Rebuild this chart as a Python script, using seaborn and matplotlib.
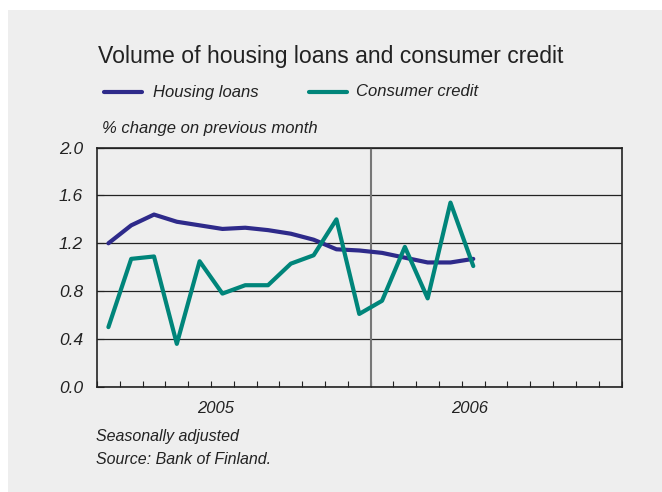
import matplotlib
matplotlib.use("Agg")
import matplotlib.pyplot as plt
from matplotlib.lines import Line2D
from matplotlib.patches import Rectangle
import numpy as np
import pandas as pd
import seaborn as sns

# Monthly data, January 2005 onwards (% change on previous month)
months = pd.period_range("2005-01", periods=17, freq="M").strftime("%Y-%m").tolist()
housing_loans = [1.20, 1.35, 1.44, 1.38, 1.35, 1.32, 1.33, 1.31, 1.28, 1.23, 1.15, 1.14,
                 1.12, 1.08, 1.04, 1.04, 1.07]
consumer_credit = [0.50, 1.07, 1.09, 0.36, 1.05, 0.78, 0.85, 0.85, 1.03, 1.10, 1.40, 0.61,
                   0.72, 1.17, 0.74, 1.54, 1.01]
series_names = ["Housing loans", "Consumer credit"]
series_colors = ["#2e2a8a", "#00857a"]
y_ticks = [0.0, 0.4, 0.8, 1.2, 1.6, 2.0]
year_labels = ["2005", "2006"]
year_label_pos = [4.7, 15.85]
n_months_axis = 23
notes = ["Seasonally adjusted", "Source: Bank of Finland."]

df = pd.DataFrame({
    "month_idx": list(range(len(months))) * 2,
    "value": housing_loans + consumer_credit,
    "series": [series_names[0]] * len(months) + [series_names[1]] * len(months),
})

sns.set_theme(style="white")
plt.rcParams["font.family"] = ["Liberation Sans", "DejaVu Sans"]

BG = "#eeeeee"
DARK = "#222222"

fig = plt.figure(figsize=(6.62, 4.92), dpi=100, facecolor="white")
fig.patches.append(Rectangle((8 / 662, 0), 654 / 662, 482 / 492, transform=fig.transFigure,
                             facecolor=BG, edgecolor="none", zorder=-10))
ax = fig.add_axes([97 / 662, 1 - 387 / 492, (621.5 - 97) / 662, (387 - 147.5) / 492])
ax.set_facecolor(BG)
ax.set_zorder(1)

sns.lineplot(data=df, x="month_idx", y="value", hue="series", hue_order=series_names,
             palette=series_colors, linewidth=3.0, legend=False, ax=ax, zorder=3)

ax.set_xlim(-0.5, n_months_axis - 0.5)
ax.set_ylim(0, 2.0)
ax.set_xlabel("")
ax.set_ylabel("")

# horizontal grid
ax.set_yticks(y_ticks)
ax.set_yticklabels([f"{v:.1f}" for v in y_ticks], fontstyle="italic", fontsize=12.5, color=DARK)
for v in y_ticks:
    ax.axhline(v, color=DARK, lw=0.9, zorder=1)

# month ticks and year divider
ax.set_xticks(np.arange(-0.5, n_months_axis, 1.0))
ax.set_xticklabels([])
ax.tick_params(axis="x", direction="in", length=4, width=0.8, color=DARK, bottom=True)
ax.tick_params(axis="y", direction="in", length=5, width=0.8, color=DARK, left=True, pad=10)
ax.axvline(11.5, color="#777777", lw=1.5, zorder=2)

for s in ax.spines.values():
    s.set_color(DARK)
    s.set_linewidth(1.2)

for lab, pos in zip(year_labels, year_label_pos):
    ax.text(pos, -0.09, lab, transform=ax.get_xaxis_transform(), ha="center", va="center",
            fontstyle="italic", fontsize=12, color=DARK)

# title and legend
fig.text(98 / 662, 1 - 57 / 492, "Volume of housing loans and consumer credit",
         fontsize=16.6, color=DARK, ha="left", va="center")
leg_y = 1 - 92 / 492
for (x0, x1, tx), name, col in zip([(104, 142, 153), (309, 347, 356)], series_names, series_colors):
    fig.add_artist(Line2D([x0 / 662, x1 / 662], [leg_y, leg_y], color=col, lw=3.0,
                          transform=fig.transFigure))
    fig.text(tx / 662, leg_y, name, fontstyle="italic", fontsize=12, color=DARK,
             ha="left", va="center")

fig.text(102 / 662, 1 - 128 / 492, "% change on previous month", fontstyle="italic",
         fontsize=12, color=DARK, ha="left", va="center")

for i, note in enumerate(notes):
    fig.text(96 / 662, 1 - (437 + 22 * i) / 492, note, fontstyle="italic", fontsize=11.5,
             color=DARK, ha="left", va="center")

fig.savefig("out.png", dpi=100, facecolor=fig.get_facecolor())
